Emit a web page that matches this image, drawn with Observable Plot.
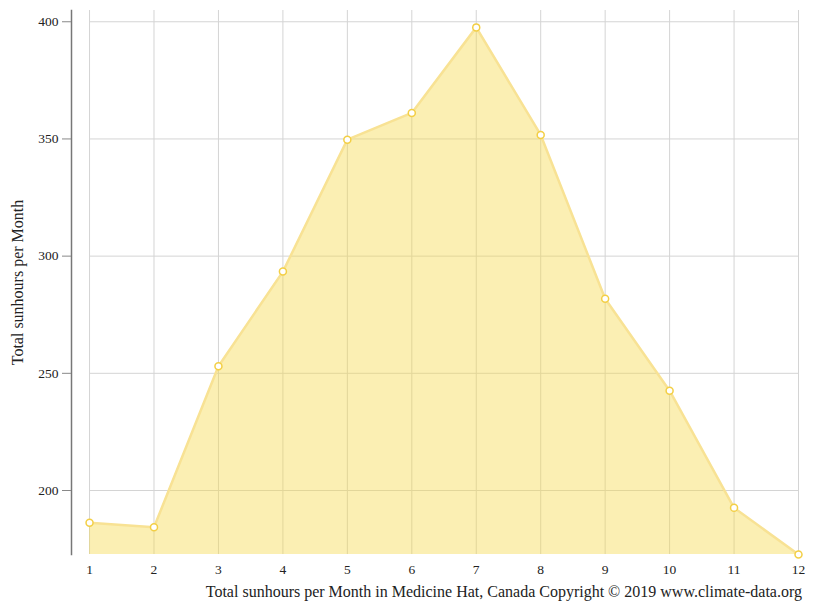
<!DOCTYPE html>
<html>
<head>
<meta charset="utf-8">
<script src="https://cdn.jsdelivr.net/npm/d3@7"></script>
<script src="https://cdn.jsdelivr.net/npm/@observablehq/plot@0.6"></script>
<style>
  body { margin: 0; background: #fff; font-family: "Liberation Serif", "Times New Roman", serif; }
  #caption { font-size: 16px; text-align: right; padding-right: 13px; margin-top: 3px; color: #222; line-height: 18px; }
</style>
</head>
<body>
<div id="chart"></div>
<div id="caption">Total sunhours per Month in Medicine Hat, Canada Copyright © 2019 www.climate-data.org</div>
<script>
const months = [1, 2, 3, 4, 5, 6, 7, 8, 9, 10, 11, 12];
const sunhours = [186.2, 184.3, 253.0, 293.4, 349.7, 361.1, 397.6, 351.7, 281.8, 242.6, 192.6, 172.7];
const yTicks = [200, 250, 300, 350, 400];
const yLabel = "Total sunhours per Month";

const data = months.map((m, i) => ({month: m, value: sunhours[i]}));

const chart = Plot.plot({
  width: 815,
  height: 580,
  marginTop: 10,
  marginBottom: 26,
  marginLeft: 71,
  marginRight: 17,
  style: {fontFamily: "'Liberation Serif', 'Times New Roman', serif", fontSize: "13px", color: "#222", background: "#fff"},
  x: {domain: [0.72, 12]},
  y: {domain: [172.7, 404.8]},
  marks: [
    Plot.ruleX(months, {x: d => d, stroke: "#d4d4d4", strokeWidth: 1}),
    Plot.ruleY(yTicks, {y: d => d, x1: months[0], x2: months[months.length - 1], stroke: "#d4d4d4", strokeWidth: 1}),
    Plot.areaY(data, {x: "month", y1: 172.7, y2: "value", fill: "#f5d94a", fillOpacity: 0.42}),
    Plot.line(data, {x: "month", y: "value", stroke: "#f8e294", strokeWidth: 2.5}),
    Plot.dot(data, {x: "month", y: "value", r: 3.5, fill: "#fff", stroke: "#f3cf45", strokeWidth: 1.5}),
    Plot.frame({anchor: "left", stroke: "#777", strokeWidth: 1.5}),
    Plot.axisY(yTicks, {tickSize: 9, tickPadding: 4, stroke: "#888", label: null, fontSize: 13.5}),
    Plot.axisX(months, {tickSize: 0, tickPadding: 10, label: null, fontSize: 13.5}),
    Plot.text([yLabel], {frameAnchor: "left", textAnchor: "middle", rotate: -90, dx: -54, text: d => d, fontSize: 16, fill: "#222"})
  ]
});
document.getElementById("chart").appendChild(chart);
</script>
</body>
</html>
